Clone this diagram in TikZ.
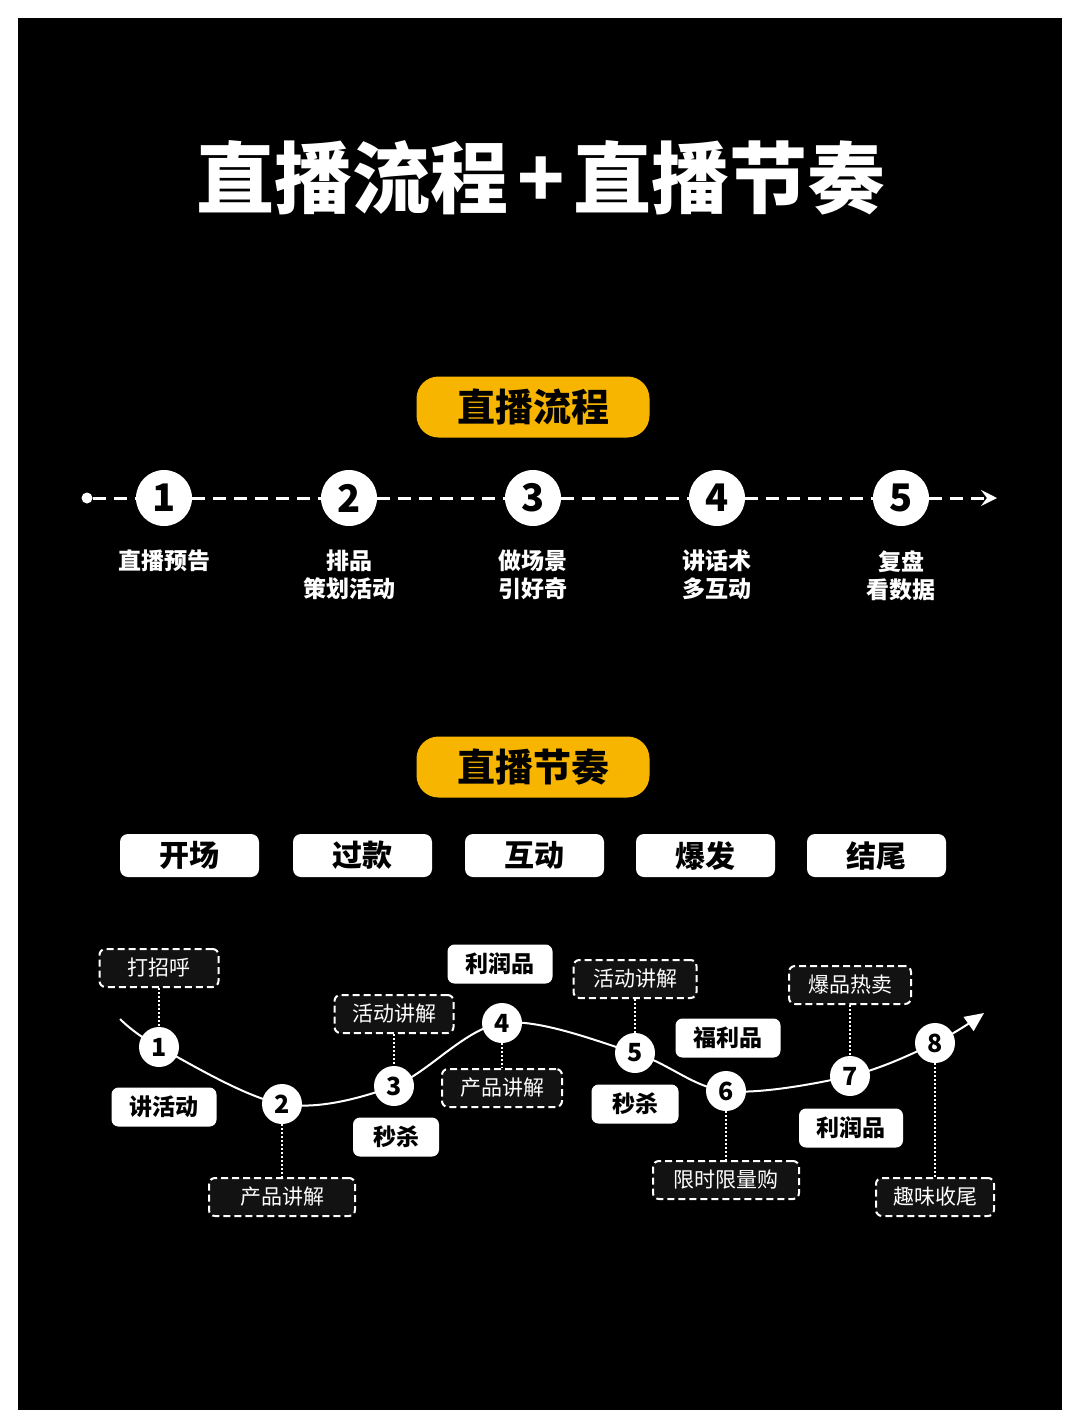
\documentclass[tikz,border=0pt]{standalone}
\usepackage{fontspec}
\setmainfont{Noto Sans CJK SC}
\usetikzlibrary{arrows.meta}
\definecolor{gold}{HTML}{F7B500}
\definecolor{boxdark}{HTML}{121212}
\newcommand{\fsz}[1]{\fontsize{#1}{#1}\selectfont}
\begin{document}
\begin{tikzpicture}[x=1pt,y=-1pt,
  pill/.style={fill=gold, rounded corners=22pt, minimum width=233pt, minimum height=61pt, inner sep=0pt, font=\fsz{38}\bfseries, text=black},
  fcirc/.style={circle, fill=white, minimum size=56pt, inner sep=0pt, font=\fsz{38}\bfseries, text=black},
  flabel/.style={anchor=north, align=center, inner sep=0pt, text=white, font=\fontsize{23}{28}\selectfont\bfseries},
  flowline/.style={draw=white, line width=3pt, dash pattern=on 13pt off 8pt},
  stagebox/.style={fill=white, rounded corners=8pt, minimum width=139pt, minimum height=43pt, inner sep=0pt, font=\fsz{30}\bfseries, text=black},
  ccirc/.style={circle, fill=white, minimum size=40pt, inner sep=0pt, font=\fsz{25}\bfseries, text=black},
  curveline/.style={draw=white, line width=2pt},
  dotline/.style={draw=white, line width=2.2pt, dash pattern=on 2pt off 2pt},
  dbox/.style={draw=white, fill=boxdark, dash pattern=on 7pt off 4pt, line width=2pt, rounded corners=6pt, minimum height=38pt, inner sep=0pt, font=\fsz{21}, text=white},
  wbox/.style={fill=white, rounded corners=7pt, minimum height=39pt, inner sep=0pt, font=\fsz{23}\bfseries, text=black}
]
\fill[white] (0,0) rectangle (1080,1428);
\fill[black] (18,18) rectangle (1062,1410);
\useasboundingbox (0,0) rectangle (1080,1428);

% title
\node[text=white, inner sep=0pt, font=\fsz{78}\bfseries] (title) at (541,178) {直播流程\hspace{9pt}+\hspace{9pt}直播节奏};

% section 1
\node[pill] (p1) at (533,407) {直播流程};
\node[circle, fill=white, minimum size=11pt, inner sep=0pt] (start) at (87,498) {};
\coordinate (fend) at (997,498);
\node[fcirc] (f1) at (164,498) {1};
\node[fcirc] (f2) at (349,498) {2};
\node[fcirc] (f3) at (533,498) {3};
\node[fcirc] (f4) at (717,498) {4};
\node[fcirc] (f5) at (901,498) {5};
\draw[flowline] (start) -- (f1);
\draw[flowline] (f1) -- (f2);
\draw[flowline] (f2) -- (f3);
\draw[flowline] (f3) -- (f4);
\draw[flowline] (f4) -- (f5);
\draw[flowline, -{Stealth[length=16pt,width=16pt,inset=6pt]}] (f5) -- (fend);

\node[flabel] (t1) at (164,550) {直播预告};
\node[flabel] (t2) at (349,550) {排品\\策划活动};
\node[flabel] (t3) at (533,550) {做场景\\引好奇};
\node[flabel] (t4) at (717,550) {讲话术\\多互动};
\node[flabel] (t5) at (901,550) {复盘\\看数据};

% section 2
\node[pill] (p2) at (533,767) {直播节奏};
\node[stagebox] (s1) at (189.5,855.5) {开场};
\node[stagebox] (s2) at (362.5,855.5) {过款};
\node[stagebox] (s3) at (534.5,855.5) {互动};
\node[stagebox] (s4) at (705.5,855.5) {爆发};
\node[stagebox] (s5) at (876.5,855.5) {结尾};

% curve
\draw[curveline, -{Triangle[length=19pt,width=17pt]}] plot[smooth, tension=0.55] coordinates {(120,1019) (159,1047) (282,1104) (394,1086) (502,1023) (635,1053) (726,1091) (850,1076) (935,1043) (984,1013)};

\node[ccirc] (c1) at (159,1047) {1};
\node[ccirc] (c2) at (282,1104) {2};
\node[ccirc] (c3) at (394,1086) {3};
\node[ccirc] (c4) at (502,1023) {4};
\node[ccirc] (c5) at (635,1053) {5};
\node[ccirc] (c6) at (726,1091) {6};
\node[ccirc] (c7) at (850,1076) {7};
\node[ccirc] (c8) at (935,1043) {8};

% dashed boxes
\node[dbox, minimum width=119pt] (d1) at (159,968) {打招呼};
\node[dbox, minimum width=146pt] (d2) at (282,1197) {产品讲解};
\node[dbox, minimum width=119pt] (d3) at (394,1014) {活动讲解};
\node[dbox, minimum width=120pt] (d4) at (502,1088) {产品讲解};
\node[dbox, minimum width=123pt] (d5) at (635,979) {活动讲解};
\node[dbox, minimum width=146pt] (d6) at (726,1180) {限时限量购};
\node[dbox, minimum width=122pt] (d7) at (850,985) {爆品热卖};
\node[dbox, minimum width=118pt] (d8) at (935,1197) {趣味收尾};

\draw[dotline] (d1) -- (c1);
\draw[dotline] (c2) -- (d2);
\draw[dotline] (d3) -- (c3);
\draw[dotline] (c4) -- (d4);
\draw[dotline] (d5) -- (c5);
\draw[dotline] (c6) -- (d6);
\draw[dotline] (d7) -- (c7);
\draw[dotline] (c8) -- (d8);

% white boxes
\node[wbox, minimum width=105pt] (w1) at (164,1107) {讲活动};
\node[wbox, minimum width=86pt] (w2) at (396,1137) {秒杀};
\node[wbox, minimum width=105pt] (w3) at (500,964) {利润品};
\node[wbox, minimum width=105pt] (w4) at (728,1038) {福利品};
\node[wbox, minimum width=87pt] (w5) at (635,1104) {秒杀};
\node[wbox, minimum width=104pt] (w6) at (851,1128) {利润品};
\end{tikzpicture}
\end{document}
